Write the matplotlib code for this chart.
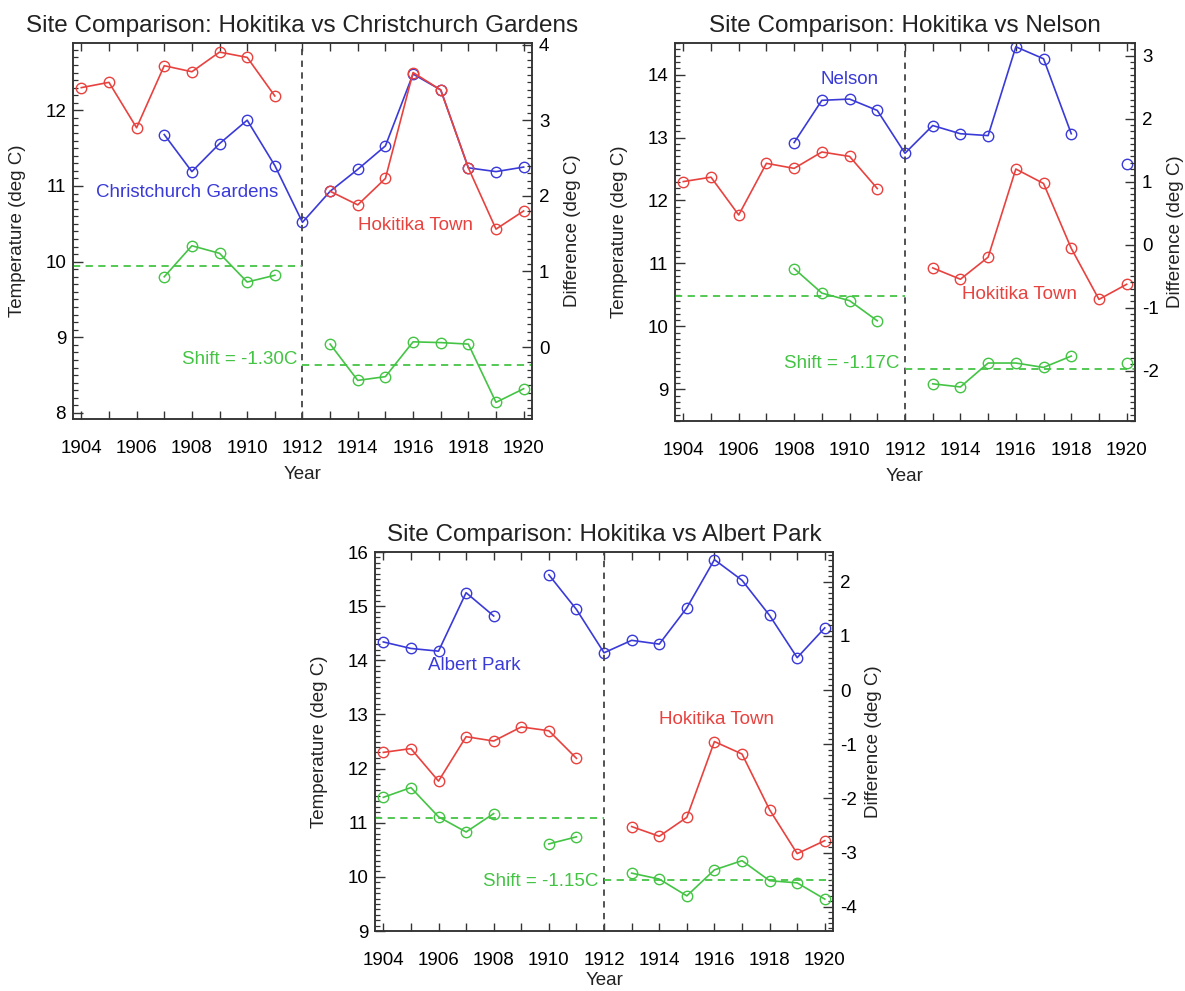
import matplotlib
matplotlib.use("Agg")
import matplotlib.pyplot as plt
import numpy as np
from matplotlib.ticker import MultipleLocator, FixedLocator, FuncFormatter

plt.rcParams["font.family"] = ["Liberation Sans", "DejaVu Sans"]
plt.rcParams["axes.unicode_minus"] = False

nan = np.nan
years = list(range(1904, 1921))
year_ticks = list(range(1904, 1921))

# Hokitika Town is the same series in all three panels
hokitika = [12.30, 12.37, 11.77, 12.59, 12.51, 12.77, 12.70, 12.19, nan,
            10.93, 10.75, 11.10, 12.50, 12.27, 11.24, 10.43, 10.67]

christchurch = [nan, nan, nan, 11.68, 11.19, 11.56, 11.87, 11.27, 10.52,
                10.93, 11.22, 11.53, 12.48, 12.27, 11.24, 11.19, 11.25]
diff_christchurch = [nan, nan, nan, 0.93, 1.34, 1.24, 0.86, 0.95, nan,
                     0.04, -0.44, -0.39, 0.07, 0.06, 0.04, -0.73, -0.55]
mean_christchurch = [1.07, -0.24]

nelson = [nan, nan, nan, nan, 12.92, 13.59, 13.61, 13.43, 12.75,
          13.19, 13.06, 13.03, 14.44, 14.25, 13.06, nan, 12.58]
diff_nelson = [nan, nan, nan, nan, -0.38, -0.77, -0.89, -1.21, nan,
               -2.21, -2.26, -1.88, -1.88, -1.95, -1.77, nan, -1.88]
mean_nelson = [-0.81, -1.97]

albert = [14.34, 14.22, 14.17, 15.25, 14.82, nan, 15.58, 14.94, 14.14,
          14.37, 14.30, 14.97, 15.86, 15.48, 14.83, 14.05, 14.60]
diff_albert = [-1.98, -1.80, -2.34, -2.62, -2.28, nan, -2.84, -2.71, nan,
               -3.38, -3.49, -3.80, -3.32, -3.15, -3.52, -3.56, -3.86]
mean_albert = [-2.37, -3.51]

shifts = [-1.30, -1.17, -1.15]

BREAK_YEAR = 1912
RED = "#e8423f"
BLUE = "#3a3ad8"
GREEN = "#44c444"
XLIM = (1903.7, 1920.3)


def style_axes(ax, ax2):
    for a in (ax, ax2):
        for sp in a.spines.values():
            sp.set_color("#333333")
            sp.set_linewidth(1.1)
    ax.set_xlim(*XLIM)
    ax.xaxis.set_major_locator(FixedLocator(year_ticks))
    ax.xaxis.set_major_formatter(FuncFormatter(lambda v, p: f"{int(v)}" if int(v) % 2 == 0 else ""))
    ax.tick_params(axis="x", which="major", direction="in", top=True, length=6,
                   width=1, labelsize=13.5, pad=15, color="#333333")
    for a in (ax, ax2):
        a.yaxis.set_major_locator(MultipleLocator(1))
        a.yaxis.set_minor_locator(MultipleLocator(0.1))
        a.tick_params(axis="y", which="major", direction="in", length=7, width=1,
                      labelsize=13.5, pad=5, color="#333333")
        a.tick_params(axis="y", which="minor", direction="in", length=3.5, width=0.9,
                      color="#333333")


def plot_panel(fig, rect, title, site_name, site_temps, diffs, means, shift,
               ylim, diff_ylim, site_pos, town_pos, shift_y, year_y=-0.12):
    ax = fig.add_axes(rect)
    ax2 = ax.twinx()
    ax.set_ylim(*ylim)
    ax2.set_ylim(*diff_ylim)
    style_axes(ax, ax2)

    mk = dict(marker="o", markersize=7.5, markerfacecolor="none", markeredgewidth=1.0, linewidth=1.2)
    ax.plot(years, site_temps, color=BLUE, markeredgecolor=BLUE, **mk)
    ax.plot(years, hokitika, color=RED, markeredgecolor=RED, **mk)
    ax2.plot(years, diffs, color=GREEN, markeredgecolor=GREEN, **mk)

    ax2.plot([XLIM[0], BREAK_YEAR], [means[0]] * 2, color=GREEN, lw=1.3, dashes=(4, 3))
    ax2.plot([BREAK_YEAR, XLIM[1]], [means[1]] * 2, color=GREEN, lw=1.3, dashes=(4, 3))
    ax.axvline(BREAK_YEAR, color="#444444", lw=1.3, dashes=(3.5, 3))

    ax.text(site_pos[0], site_pos[1], site_name, color=BLUE, fontsize=13.5,
            ha=site_pos[2], va="center")
    ax.text(town_pos[0], town_pos[1], "Hokitika Town", color=RED, fontsize=13.5,
            ha="left", va="center")
    ax.text(1911.8, shift_y, f"Shift = {shift:.2f}C", color=GREEN, fontsize=13.5,
            ha="right", va="center")

    ax.set_title(title, fontsize=17.5, pad=8, color="#222222")
    ax.set_xlabel("Year", fontsize=13.5, color="#222222")
    ax.set_ylabel("Temperature (deg C)", fontsize=13.5, color="#222222")
    ax2.set_ylabel("Difference (deg C)", fontsize=13.5, color="#222222")
    ax.xaxis.set_label_coords(0.5, year_y)
    ax.yaxis.set_label_coords(-0.102, 0.5)
    ax2.yaxis.set_label_coords(1.07, 0.5)
    return ax


def main():
    fig = plt.figure(figsize=(11.85, 9.91), dpi=100)

    plot_panel(fig, [0.0616, 0.5772, 0.3873, 0.3794],
               "Site Comparison: Hokitika vs Christchurch Gardens",
               "Christchurch Gardens", christchurch, diff_christchurch, mean_christchurch, shifts[0],
               (7.92, 12.89), (-0.95, 4.02),
               (1904.54, 10.91, "left"), (1914.0, 10.48), 8.7, year_y=-0.125)

    plot_panel(fig, [0.5696, 0.5752, 0.3882, 0.3814],
               "Site Comparison: Hokitika vs Nelson",
               "Nelson", nelson, diff_nelson, mean_nelson, shifts[1],
               (8.5, 14.5), (-2.8, 3.2),
               (1910.0, 13.92, "center"), (1914.04, 10.5), 9.41, year_y=-0.125)

    plot_panel(fig, [0.3165, 0.0605, 0.3865, 0.3824],
               "Site Comparison: Hokitika vs Albert Park",
               "Albert Park", albert, diff_albert, mean_albert, shifts[2],
               (9.0, 16.0), (-4.45, 2.55),
               (1905.63, 13.91, "left"), (1914.0, 12.91), 9.91, year_y=-0.108)

    fig.savefig("out.png", dpi=100, facecolor="white")
    plt.close(fig)


if __name__ == "__main__":
    main()
